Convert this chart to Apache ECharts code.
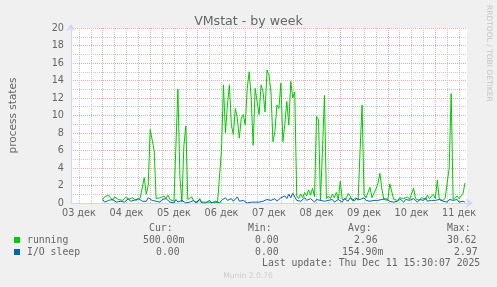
<!DOCTYPE html>
<html><head><meta charset="utf-8">
<script src="https://cdn.jsdelivr.net/npm/echarts@6/dist/echarts.min.js"></script>
<style>html,body{margin:0;padding:0;background:#f0f0f0}#c{width:497px;height:287px}</style>
</head><body><div id="c"></div><script>
// x values: hours since 03 дек 08:00 (left edge of the plot); data step = 1 hour
const dayLabels = ['03 дек','04 дек','05 дек','06 дек','07 дек','08 дек','09 дек','10 дек','11 дек'];
const firstSampleHour = 16; // 04 дек 00:00
const running = [
  0.4,0.7,0.5,0.9,0.6,0.3,0.7,0.5,0.4,0.6,0.3,0.5,0.7,0.4,0.3,0.6,0.5,0.3,0.4,0.6,0.5,
  2.9,1.0,2.0,8.4,8.6,6.0,0.5,
  0.3,0.6,0.4,0.8,0.5,0.9,0.4,0.3,0.2,
  0.1,13.0,3.0,0.1,6.5,8.8,0.4,
  0.4,0.7,0.2,0.3,0.1,0.5,0.1,0.05,0.1,0.05,0.1,0.05,0.05,0.1,0.05,0.1,
  6.0,
  13.5,8.0,11.2,13.5,8.9,7.8,10.8,9.7,7.4,9.7,10.1,8.9,13.1,15.0,12.0,6.6,13.1,13.1,10.1,13.5,
  12.7,10.4,15.2,14.6,12.7,7.0,8.2,11.2,10.8,13.7,7.0,9.0,11.6,8.9,13.9,12.0,12.7,
  0.8,0.5,1.0,0.6,1.2,0.8,1.5,0.9,1.7,0.7,
  9.9,9.5,0.3,6.0,12.3,0.5,
  0.8,0.5,1.0,0.6,1.2,0.4,
  2.5,0.4,
  0.3,0.5,1.1,0.8,0.3,0.4,0.6,0.3,
  6.0,11.2,1.0,
  0.6,0.4,1.8,0.6,0.5,1.6,2.2,3.4,1.6,0.4,0.5,0.3,2.2,2.0,0.4,
  0.5,0.3,0.6,0.4,0.5,0.3,0.7,0.4,
  0.6,1.7,0.5,
  0.4,0.3,0.6,0.5,0.4,0.9,
  0.5,0.4,1.0,0.5,2.6,0.4,
  0.5,0.3,0.6,0.4,
  4.0,12.5,0.4,
  0.3,0.8,0.5,0.3,
  1.1,2.3
];
const ioSleep = [
  0.4,0.1,0.2,0.3,0.1,0.4,0.2,0.1,0.3,0.2,0.4,0.1,0.3,0.5,0.2,0.4,0.3,0.2,0.5,0.3,0.2,
  0.4,0.2,0.6,0.7,0.3,0.5,0.2,
  0.3,0.1,0.4,0.2,0.5,0.3,0.1,0.2,0.0,0.4,0.1,0.0,0.3,0.1,0.0,0.2,
  0.1,0.0,0.3,0.0,0.1,0.4,0.0,0.2,0.0,0.1,0.3,0.0,0.0,0.2,0.1,0.0,0.3,
  0.2,0.6,0.3,0.1,0.5,0.2,0.3,0.7,0.2,0.1,0.3,0.1,0.0,0.2,0.1,0.0,0.1,0.3,0.1,0.0,
  0.2,0.1,0.4,0.2,0.3,0.1,0.5,0.2,0.3,0.6,0.4,0.8,0.5,1.0,0.6,1.1,0.7,
  0.3,0.5,0.2,0.4,0.6,0.3,0.2,0.5,0.3,0.1,
  0.4,0.2,0.3,0.5,0.2,0.1,0.3,0.2,0.4,0.1,
  0.2,0.4,0.3,0.1,0.5,0.3,0.2,0.6,0.4,0.2,
  0.5,0.3,0.4,0.2,0.6,0.3,0.5,0.2,0.4,0.3,
  0.1,0.3,0.2,0.4,0.2,0.5,0.3,0.2,0.4,0.1,
  0.3,0.2,0.5,0.3,0.1,0.4,0.2,0.3,0.2,0.5,
  0.3,0.1,0.4,0.2,0.3,0.6,0.2,0.4,0.3,0.1,
  0.3,0.2,0.4,0.5,0.2,0.3,0.1,0.4,0.2,0.3,
  0.2,0.4,0.1,0.3,0.2,0.1
];
const seriesNames = ['running','I/O sleep'];
const statHeaders = ['Cur:','Min:','Avg:','Max:'];
const runningStats = ['500.00m','0.00','2.96','30.62'];
const ioSleepStats = ['0.00','0.00','154.90m','2.97'];
const lastUpdate = 'Last update: Thu Dec 11 15:30:07 2025';

const GREEN = '#00cc00', BLUE = '#0066b3', FONT = '#666666', AXIS = '#cfd6f8';
const GRIDG = '#c8c8c8', GRIDR = '#eda8a8';
const DASH = [1, 1];
const toPairs = arr => arr.map((v, i) => [firstSampleHour + i, v]);

// vertical grid every 6 h (12:00, 18:00, 00:00, 06:00), day boundaries (00:00) emphasised
const vGrid = [];
for (let h = 4; h < 200; h += 6) {
  const isDay = (h - 16) % 24 === 0;
  vGrid.push({xAxis: h, lineStyle: {color: isDay ? GRIDR : GRIDG, type: DASH, width: 1}});
}

const chart = echarts.init(document.getElementById('c'), null, {renderer: 'canvas'});
const mono = '"DejaVu Sans Mono", monospace';
const sans = '"DejaVu Sans", sans-serif';
const txt = (x, y, text, extra) => ({type: 'text', x: x, y: y, silent: true,
  style: Object.assign({text: text, fill: FONT, font: '9.8px ' + mono, textVerticalAlign: 'middle'}, extra || {})});
const headX = [149, 248, 348, 447];
const runX = [143, 255, 354, 447];
const ioX = [156, 255, 342, 454];
const graphics = [
  {type: 'text', x: 489, y: 5, rotation: -Math.PI / 2, silent: true,
   style: {text: 'RRDTOOL / TOBI OETIKER', fill: '#c4c4c4', font: '7.5px ' + sans, textVerticalAlign: 'middle'}},
  {type: 'rect', shape: {x: 14, y: 237, width: 6, height: 6}, style: {fill: GREEN}, silent: true},
  {type: 'rect', shape: {x: 14, y: 249, width: 6, height: 6}, style: {fill: BLUE}, silent: true},
  txt(27, 240, seriesNames[0]),
  txt(27, 252, seriesNames[1]),
  txt(262, 263.5, lastUpdate),
  {type: 'text', x: 248, y: 276, silent: true,
   style: {text: 'Munin 2.0.76', fill: '#cccccc', font: '7.6px ' + sans, textAlign: 'center', textVerticalAlign: 'middle'}}
];
statHeaders.forEach((h, i) => graphics.push(txt(headX[i], 228, h)));
runningStats.forEach((h, i) => graphics.push(txt(runX[i], 240, h)));
ioSleepStats.forEach((h, i) => graphics.push(txt(ioX[i], 252, h)));

chart.setOption({
  backgroundColor: '#f0f0f0',
  animation: false,
  title: {text: 'VMstat - by week', left: 'center', top: 10,
    textStyle: {fontFamily: sans, fontSize: 12.6, fontWeight: 'normal', color: FONT}},
  grid: {left: 67, top: 28, width: 400, height: 175, show: true, backgroundColor: '#ffffff', borderWidth: 0},
  xAxis: {
    type: 'value', min: 0, max: 200, interval: 4,
    axisLine: {show: true, lineStyle: {color: AXIS, width: 1}, symbol: ['none', 'arrow'], symbolSize: [7, 7], symbolOffset: [0, 6]},
    axisTick: {show: false},
    axisLabel: {color: FONT, fontFamily: sans, fontSize: 9.7, margin: 5,
      formatter: v => { const d = Math.round(v) - 4; return (d >= 0 && d % 24 === 0) ? dayLabels[d / 24] : ''; }},
    splitLine: {show: false}
  },
  yAxis: {
    type: 'value', min: 0, max: 20, interval: 2,
    name: 'process states', nameLocation: 'middle', nameGap: 52, nameRotate: 90,
    nameTextStyle: {color: FONT, fontFamily: sans, fontSize: 10.5},
    axisLine: {show: true, lineStyle: {color: AXIS, width: 1}, symbol: ['none', 'arrow'], symbolSize: [7, 7], symbolOffset: [0, 4]},
    axisTick: {show: false},
    axisLabel: {color: FONT, fontFamily: sans, fontSize: 9.7, margin: 7},
    splitLine: {show: true, lineStyle: {color: GRIDR, type: DASH, width: 1}},
    minorTick: {show: false, splitNumber: 2},
    minorSplitLine: {show: true, lineStyle: {color: GRIDG, type: DASH, width: 1}}
  },
  series: [
    {name: 'grid', type: 'line', data: [], z: 1, silent: true,
     markLine: {silent: true, z: 1, symbol: 'none', label: {show: false}, animation: false,
       emphasis: {disabled: true}, data: vGrid}},
    {name: seriesNames[0], type: 'line', data: toPairs(running), showSymbol: false, symbol: 'none',
     lineStyle: {color: GREEN, width: 1}, itemStyle: {color: GREEN}, z: 10},
    {name: seriesNames[1], type: 'line', data: toPairs(ioSleep), showSymbol: false, symbol: 'none',
     lineStyle: {color: BLUE, width: 1}, itemStyle: {color: BLUE}, z: 11}
  ],
  graphic: graphics
});
</script></body></html>
